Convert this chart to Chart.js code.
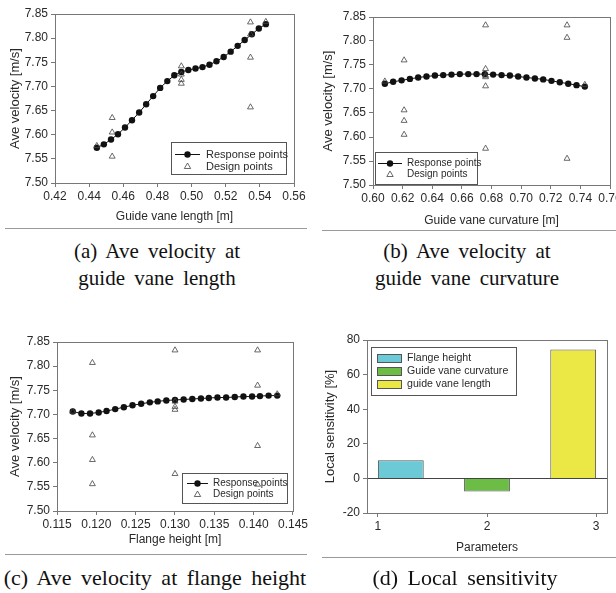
<!DOCTYPE html>
<html><head><meta charset="utf-8">
<script src="https://cdn.jsdelivr.net/npm/chart.js@4.4.0/dist/chart.umd.min.js"></script>
<style>
html,body{margin:0;padding:0;background:#fff;width:616px;height:593px;overflow:hidden;position:relative}
canvas{position:absolute}
.cap{position:absolute;font-family:"Liberation Serif","Times New Roman",serif;font-size:21px;color:#111;text-align:center;white-space:nowrap;word-spacing:4px;line-height:27px}
.rule{position:absolute;height:0;border-top:1.5px solid #9a9a9a}
</style></head><body>
<canvas id="ca" width="310" height="232" style="left:0;top:0"></canvas>
<canvas id="cb" width="320" height="235" style="left:310px;top:0"></canvas>
<canvas id="cc" width="310" height="250" style="left:0;top:300px"></canvas>
<canvas id="cd" width="306" height="260" style="left:310px;top:300px"></canvas>
<div class="rule" style="left:5px;width:302px;top:228px"></div>
<div class="rule" style="left:322px;width:294px;top:230px"></div>
<div class="rule" style="left:5px;width:302px;top:554px"></div>
<div class="rule" style="left:322px;width:294px;top:557px"></div>
<div class="cap" style="left:2px;width:310px;top:238px">(a) Ave velocity at<br>guide vane length</div>
<div class="cap" style="left:312px;width:310px;top:238px">(b) Ave velocity at<br>guide vane curvature</div>
<div class="cap" style="left:0px;width:310px;top:564px;font-size:22px">(c) Ave velocity at flange height</div>
<div class="cap" style="left:310px;width:310px;top:564px;font-size:22px">(d) Local sensitivity</div>
<script>
// ---------- data ----------
const velTicks = [7.50, 7.55, 7.60, 7.65, 7.70, 7.75, 7.80, 7.85];

const lengthTicks = [0.42, 0.44, 0.46, 0.48, 0.50, 0.52, 0.54, 0.56];
const lengthX = [0.4445,0.4486,0.4528,0.4569,0.4610,0.4651,0.4693,0.4734,0.4775,0.4816,0.4858,0.4899,0.4940,0.4981,0.5023,0.5064,0.5105,0.5146,0.5188,0.5229,0.5270,0.5311,0.5353,0.5394,0.5435];
const lengthVel = [7.573,7.580,7.590,7.601,7.615,7.630,7.646,7.663,7.680,7.697,7.711,7.723,7.730,7.734,7.737,7.740,7.745,7.752,7.761,7.772,7.784,7.796,7.808,7.820,7.829];
const lengthDesignX = [0.4445,0.4535,0.4535,0.4535,0.494,0.494,0.494,0.494,0.5345,0.5345,0.5345,0.5345,0.5435];
const lengthDesignVel = [7.577,7.635,7.605,7.555,7.742,7.725,7.714,7.706,7.833,7.808,7.760,7.657,7.834];

const curvTicks = [0.60, 0.62, 0.64, 0.66, 0.68, 0.70, 0.72, 0.74, 0.76];
const curvX = [0.6080,0.6136,0.6193,0.6249,0.6305,0.6361,0.6418,0.6474,0.6530,0.6586,0.6643,0.6699,0.6755,0.6811,0.6868,0.6924,0.6980,0.7036,0.7093,0.7149,0.7205,0.7261,0.7318,0.7374,0.7430];
const curvVel = [7.711,7.715,7.718,7.721,7.724,7.726,7.728,7.729,7.730,7.731,7.731,7.731,7.731,7.730,7.729,7.728,7.726,7.724,7.722,7.720,7.717,7.714,7.711,7.708,7.705];
const curvDesignX = [0.608,0.621,0.621,0.621,0.621,0.676,0.676,0.676,0.676,0.676,0.676,0.731,0.731,0.731,0.743];
const curvDesignVel = [7.716,7.760,7.656,7.634,7.605,7.833,7.742,7.728,7.725,7.706,7.576,7.833,7.807,7.555,7.709];

const flangeTicks = [0.115, 0.120, 0.125, 0.130, 0.135, 0.140, 0.145];
const flangeX = [0.1170,0.1181,0.1192,0.1203,0.1213,0.1224,0.1235,0.1246,0.1257,0.1268,0.1278,0.1289,0.1300,0.1311,0.1322,0.1333,0.1343,0.1354,0.1365,0.1376,0.1387,0.1398,0.1408,0.1419,0.1430];
const flangeVel = [7.706,7.702,7.702,7.704,7.707,7.711,7.715,7.719,7.722,7.725,7.727,7.729,7.730,7.731,7.732,7.733,7.734,7.735,7.735,7.736,7.737,7.737,7.738,7.739,7.739];
const flangeDesignX = [0.117,0.1195,0.1195,0.1195,0.1195,0.130,0.130,0.130,0.130,0.130,0.1405,0.1405,0.1405,0.1405,0.143];
const flangeDesignVel = [7.706,7.807,7.657,7.606,7.556,7.833,7.727,7.716,7.710,7.577,7.833,7.760,7.635,7.555,7.742];

const paramNames = ['Flange height', 'Guide vane curvature', 'guide vane length'];
const paramIndex = [1, 2, 3];
const sensitivity = [10.5, -7.5, 74.5];
const sensTicks = [-20, 0, 20, 40, 60, 80];
const paramTicks = [1, 2, 3];

// ---------- helpers ----------
const SANS = '"Liberation Sans", Arial, sans-serif';
const AX = '#777';
const TXT = '#2a2a2a';
const zip = (xs, ys) => xs.map((x, i) => ({x: x, y: ys[i]}));

const frame = {
  id: 'frame',
  afterDatasetsDraw(chart) {
    const a = chart.chartArea, c = chart.ctx;
    c.save();
    c.strokeStyle = AX; c.lineWidth = 1;
    c.strokeRect(Math.round(a.left) + 0.5, Math.round(a.top) + 0.5, Math.round(a.right - a.left), Math.round(a.bottom - a.top));
    c.restore();
  }
};

const insideLegend = {
  id: 'insideLegend',
  beforeDatasetsDraw(chart, args, o) {
    if (!o || !o.box) return;
    const c = chart.ctx, b = o.box;
    c.save();
    c.fillStyle = '#fff';
    c.fillRect(b[0], b[1], b[2] - b[0], b[3] - b[1]);
    c.strokeStyle = '#555'; c.lineWidth = 1;
    c.strokeRect(b[0] + 0.5, b[1] + 0.5, b[2] - b[0], b[3] - b[1]);
    c.font = o.fontSize + 'px ' + SANS;
    c.textBaseline = 'middle';
    c.fillStyle = TXT;
    for (let i = 0; i < o.labels.length; i++) {
      const y = o.rows[i];
      const kind = o.kinds[i];
      if (kind === 'line') {
        c.strokeStyle = '#111'; c.lineWidth = 1;
        c.beginPath(); c.moveTo(o.sx[0], y + 0.5); c.lineTo(o.sx[1], y + 0.5); c.stroke();
        c.fillStyle = '#111';
        c.beginPath(); c.arc((o.sx[0] + o.sx[1]) / 2, y + 0.5, 3.2, 0, Math.PI * 2); c.fill();
      } else if (kind === 'tri') {
        const cx = (o.sx[0] + o.sx[1]) / 2;
        c.strokeStyle = '#444'; c.lineWidth = 0.8;
        c.beginPath(); c.moveTo(cx, y - 3); c.lineTo(cx + 3.2, y + 2.5); c.lineTo(cx - 3.2, y + 2.5); c.closePath(); c.stroke();
      } else {
        c.fillStyle = o.colors[i];
        c.fillRect(o.sx[0], y - 4, o.sx[1] - o.sx[0], 8);
        c.strokeStyle = '#555'; c.lineWidth = 1;
        c.strokeRect(o.sx[0] + 0.5, y - 3.5, o.sx[1] - o.sx[0], 8);
      }
      c.fillStyle = TXT;
      c.fillText(o.labels[i], o.tx, y + 0.5);
    }
    c.restore();
  }
};

function axisX(min, max, ticks, digits, title, height, tpad) {
  return {
    type: 'linear', min: min, max: max, offset: false,
    afterBuildTicks: s => { s.ticks = ticks.map(v => ({value: v})); },
    afterFit: s => { s.height = height; },
    ticks: {color: TXT, font: {family: SANS, size: 12}, padding: 2, maxRotation: 0, autoSkip: false,
            callback: v => Number(v).toFixed(digits)},
    grid: {display: true, offset: false, drawOnChartArea: false, drawTicks: true, tickLength: 4, color: AX, tickColor: AX},
    border: {display: true, color: AX},
    title: {display: true, text: title, color: TXT, font: {family: SANS, size: 12}, padding: {top: 0, bottom: tpad}}
  };
}
function axisY(min, max, ticks, digits, title, width, tpad, grid) {
  return {
    type: 'linear', min: min, max: max,
    afterBuildTicks: s => { s.ticks = ticks.map(v => ({value: v})); },
    afterFit: s => { s.width = width; },
    ticks: {color: TXT, font: {family: SANS, size: 12}, padding: 3, autoSkip: false,
            callback: v => Number(v).toFixed(digits)},
    grid: grid || {display: true, drawOnChartArea: false, drawTicks: true, tickLength: 4, color: AX, tickColor: AX},
    border: {display: true, color: AX},
    title: {display: true, text: title, color: TXT, font: {family: SANS, size: 13}, padding: {top: tpad, bottom: 0}}
  };
}

function velChart(id, xs, ys, dx, dy, xmin, xmax, xticks, xdig, xtitle, pad, yw, xh, ytp, xbp, legend) {
  return new Chart(document.getElementById(id), {
    data: {
      datasets: [
        {type: 'scatter', label: 'Design points', data: zip(dx, dy), pointStyle: 'triangle',
         pointRadius: 3.4, pointBorderWidth: 0.8, borderColor: '#444', backgroundColor: 'rgba(255,255,255,0)', order: 1},
        {type: 'line', label: 'Response points', data: zip(xs, ys), borderColor: '#111', borderWidth: 1,
         pointRadius: 3.2, pointBackgroundColor: '#111', pointBorderColor: '#111', pointBorderWidth: 0, tension: 0, fill: false, order: 2}
      ]
    },
    options: {
      responsive: false, animation: false, devicePixelRatio: 1,
      layout: {padding: pad},
      scales: {
        x: axisX(xmin, xmax, xticks, xdig, xtitle, xh, xbp),
        y: axisY(7.5, 7.85, velTicks, 2, 'Ave velocity [m/s]', yw, ytp)
      },
      plugins: {legend: {display: false}, tooltip: {enabled: false}, insideLegend: legend}
    },
    plugins: [insideLegend, frame]
  });
}

// (a) guide vane length
velChart('ca', lengthX, lengthVel, lengthDesignX, lengthDesignVel, 0.42, 0.56, lengthTicks, 2, 'Guide vane length [m]',
  {left: 0, top: 14, right: 16, bottom: 0}, 55, 49, 7.2, 7.8,
  {box: [171, 142, 286, 174], rows: [154, 166], sx: [175, 200], tx: 206, fontSize: 11,
   kinds: ['line', 'tri'], labels: ['Response points', 'Design points'], colors: ['', '']});

// (b) guide vane curvature
velChart('cb', curvX, curvVel, curvDesignX, curvDesignVel, 0.60, 0.76, curvTicks, 2, 'Guide vane curvature [m]',
  {left: 0, top: 17, right: 20, bottom: 0}, 63, 50, 10.2, 6.8,
  {box: [65, 152, 167, 184], rows: [163, 174], sx: [68, 92], tx: 97, fontSize: 10,
   kinds: ['line', 'tri'], labels: ['Response points', 'Design points'], colors: ['', '']});

// (c) flange height
velChart('cc', flangeX, flangeVel, flangeDesignX, flangeDesignVel, 0.115, 0.145, flangeTicks, 3, 'Flange height [m]',
  {left: 0, top: 42, right: 17, bottom: 0}, 57, 39, 7.2, 2.8,
  {box: [182, 173, 287, 203], rows: [183, 194], sx: [187, 208], tx: 213, fontSize: 10,
   kinds: ['line', 'tri'], labels: ['Response points', 'Design points'], colors: ['', '']});

// (d) local sensitivity
const barColors = ['#6ccad6', '#6bbd46', '#ebe845'];
new Chart(document.getElementById('cd'), {
  type: 'bar',
  data: {
    datasets: paramNames.map((name, i) => ({
      label: name,
      data: [{x: paramIndex[i], y: sensitivity[i]}],
      backgroundColor: barColors[i], borderColor: '#555', borderWidth: 1,
      categoryPercentage: 0.63, barPercentage: 2.0,
      order: paramNames.length - i
    }))
  },
  options: {
    responsive: false, animation: false, devicePixelRatio: 1,
    layout: {padding: {left: 0, top: 40, right: 9, bottom: 0}},
    scales: {
      x: axisX(0.9, 3.1, paramTicks, 0, 'Parameters', 47, 4.8),
      y: axisY(-20, 80, sensTicks, 0, 'Local sensitivity [%]', 57, 12.2,
        {display: true, drawOnChartArea: true, drawTicks: true, tickLength: 4, tickColor: AX,
         color: c => (c.tick && c.tick.value === 0) ? '#444' : 'rgba(0,0,0,0)'})
    },
    plugins: {legend: {display: false}, tooltip: {enabled: false},
      insideLegend: {box: [61, 47, 206, 95], rows: [58, 71, 84], sx: [67, 91], tx: 97, fontSize: 10.6,
        kinds: ['rect', 'rect', 'rect'], labels: paramNames, colors: barColors}}
  },
  plugins: [insideLegend, frame]
});
</script>
</body></html>
